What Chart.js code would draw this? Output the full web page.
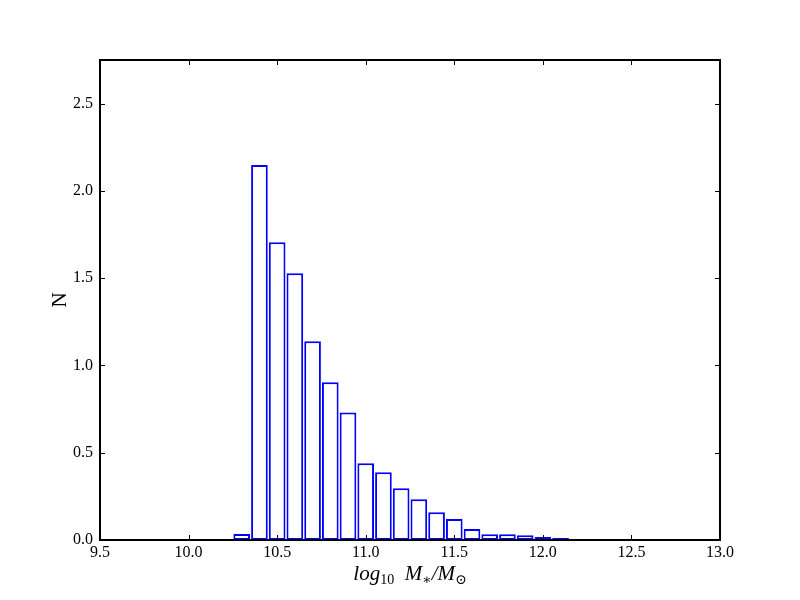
<!DOCTYPE html>
<html>
<head>
<meta charset="utf-8">
<script src="https://cdn.jsdelivr.net/npm/chart.js@4/dist/chart.umd.min.js"></script>
<style>
  html, body { margin: 0; padding: 0; background: #fff; }
  canvas { display: block; }
</style>
</head>
<body>
<canvas id="hist" width="800" height="600"></canvas>
<script>
// histogram of log10 stellar mass, bins of 0.1 dex (bin centres)
const binCentres = [10.3, 10.4, 10.5, 10.6, 10.7, 10.8, 10.9, 11.0, 11.1, 11.2, 11.3, 11.4,
  11.5, 11.6, 11.7, 11.8, 11.9, 12.0, 12.1, 12.2, 12.3, 12.4, 12.5, 12.6];
const counts = [0.034, 2.149, 1.706, 1.528, 1.138, 0.904, 0.730, 0.439, 0.388, 0.296, 0.233, 0.159,
  0.120, 0.063, 0.033, 0.033, 0.027, 0.017, 0.011, 0.004, 0.003, 0.003, 0.003, 0.003];
const xTicks = [9.5, 10.0, 10.5, 11.0, 11.5, 12.0, 12.5, 13.0];
const yTicks = [0.0, 0.5, 1.0, 1.5, 2.0, 2.5];
const xLabelParts = [["log", 0], ["10", 1], ["  M", 0], ["\u2217", 1], ["/M", 0], ["\u2299", 1]];
const yLabel = "N";

const serif = "'Liberation Serif', 'DejaVu Serif', serif";

// frame, inward tick marks and axis labels, matplotlib style
const frame = {
  id: "frame",
  afterDraw(chart) {
    const { ctx, chartArea: a, scales } = chart;
    ctx.save();
    ctx.strokeStyle = "#000";
    ctx.lineWidth = 1;
    xTicks.forEach(v => {
      const px = Math.round(scales.x.getPixelForValue(v)) + 0.5;
      ctx.beginPath();
      ctx.moveTo(px, a.bottom); ctx.lineTo(px, a.bottom - 5);
      ctx.moveTo(px, a.top); ctx.lineTo(px, a.top + 5);
      ctx.stroke();
    });
    yTicks.forEach(v => {
      const py = Math.round(scales.y.getPixelForValue(v)) + 0.5;
      ctx.beginPath();
      ctx.moveTo(a.left, py); ctx.lineTo(a.left + 5, py);
      ctx.moveTo(a.right, py); ctx.lineTo(a.right - 5, py);
      ctx.stroke();
    });
    ctx.lineWidth = 2;
    ctx.strokeRect(a.left, a.top, a.right - a.left, a.bottom - a.top);

    // x label with subscripts
    ctx.fillStyle = "#000";
    ctx.textBaseline = "alphabetic";
    ctx.textAlign = "left";
    const big = "italic 21px " + serif, small = "14px " + serif;
    let w = 0;
    xLabelParts.forEach(([t, sub]) => { ctx.font = sub ? small : big; w += ctx.measureText(t).width; });
    let x = (a.left + a.right) / 2 - w / 2;
    const base = 580;
    xLabelParts.forEach(([t, sub]) => {
      ctx.font = sub ? small : big;
      ctx.fillText(t, x, sub ? base + 4 : base);
      x += ctx.measureText(t).width;
    });

    // y label
    ctx.translate(66, (a.top + a.bottom) / 2);
    ctx.rotate(-Math.PI / 2);
    ctx.textAlign = "center";
    ctx.font = "21px " + serif;
    ctx.fillText(yLabel, 0, 0);
    ctx.restore();
  }
};

new Chart(document.getElementById("hist"), {
  type: "bar",
  data: {
    datasets: [{
      data: binCentres.map((c, i) => ({ x: c, y: counts[i] })),
      backgroundColor: "#ffffff",
      borderColor: "#0000ff",
      borderWidth: 2,
      borderSkipped: false,
      barPercentage: 0.94,
      categoryPercentage: 1.0
    }]
  },
  plugins: [frame],
  options: {
    responsive: false,
    animation: false,
    layout: { padding: { top: 60, right: 80, left: 0, bottom: 0 } },
    plugins: { legend: { display: false }, tooltip: { enabled: false } },
    scales: {
      x: {
        type: "linear",
        min: 9.5,
        max: 13.0,
        offset: false,
        grid: { display: false, drawTicks: false },
        border: { display: false },
        afterBuildTicks: s => { s.ticks = xTicks.map(v => ({ value: v })); },
        afterFit: s => { s.height = 60; },
        ticks: {
          padding: 3,
          color: "#000",
          font: { family: serif, size: 16 },
          callback: v => v.toFixed(1)
        }
      },
      y: {
        min: 0,
        max: 2.75,
        grid: { display: false, drawTicks: false },
        border: { display: false },
        afterBuildTicks: s => { s.ticks = yTicks.map(v => ({ value: v })); },
        afterFit: s => { s.width = 100; },
        ticks: {
          padding: 7,
          color: "#000",
          font: { family: serif, size: 16 },
          callback: v => v.toFixed(1)
        }
      }
    }
  }
});
</script>
</body>
</html>
